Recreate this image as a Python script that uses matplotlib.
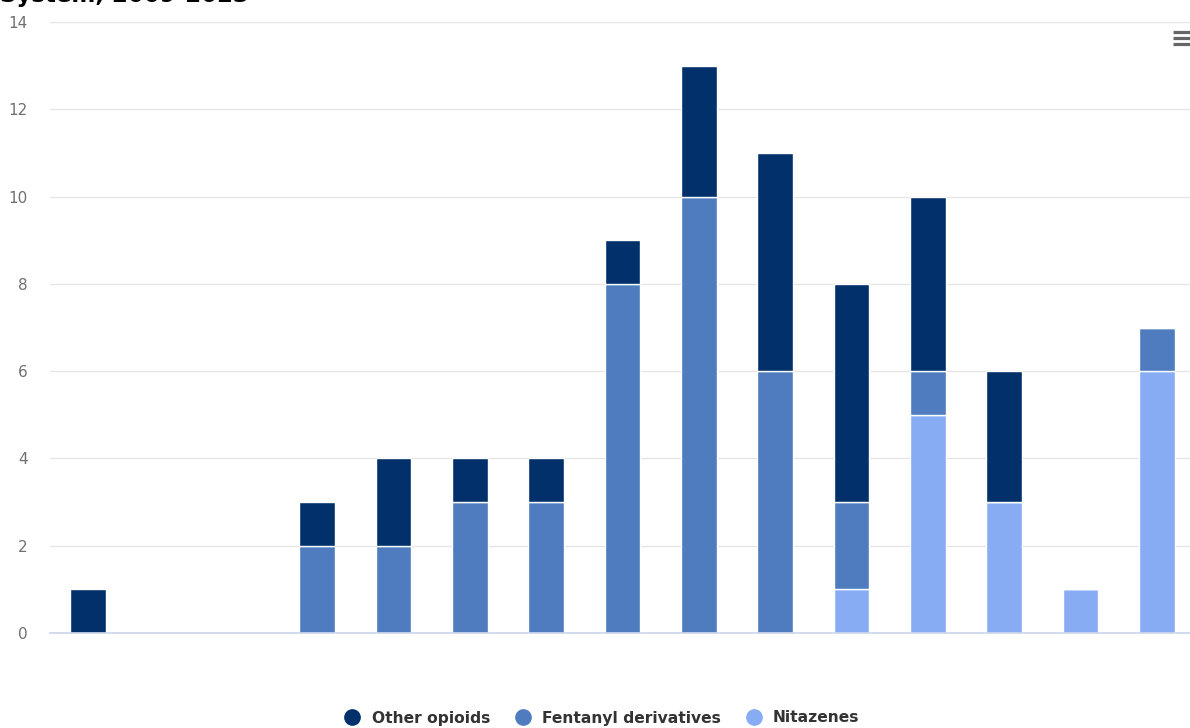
import matplotlib
matplotlib.use("Agg")
import matplotlib.pyplot as plt
from matplotlib.lines import Line2D
import numpy as np

years = list(range(2009, 2024))
other_opioids = [1, 0, 0, 1, 2, 1, 1, 1, 3, 5, 5, 4, 3, 0, 0]
fentanyl = [0, 0, 0, 2, 2, 3, 3, 8, 10, 6, 2, 1, 0, 0, 1]
nitazenes = [0, 0, 0, 0, 0, 0, 0, 0, 0, 0, 1, 5, 3, 1, 6]
series_names = ["Other opioids", "Fentanyl derivatives", "Nitazenes"]
colors = {"Other opioids": "#01306b", "Fentanyl derivatives": "#4e7cbf", "Nitazenes": "#88acf4"}
yticks = [0, 2, 4, 6, 8, 10, 12, 14]

W, H = 1190, 728
fig = plt.figure(figsize=(W / 100, H / 100), dpi=100)
left, right, top, bottom = 50, 1195, 22, 633
ax = fig.add_axes([left / W, (H - bottom) / H, (right - left) / W, (bottom - top) / H])

x = np.arange(len(years))
nit = np.array(nitazenes)
fen = np.array(fentanyl)
oth = np.array(other_opioids)
bw = 0.47
ax.bar(x, nit, bw, color=colors["Nitazenes"], edgecolor="white", linewidth=1, zorder=3)
ax.bar(x, fen, bw, bottom=nit, color=colors["Fentanyl derivatives"], edgecolor="white", linewidth=1, zorder=3)
ax.bar(x, oth, bw, bottom=nit + fen, color=colors["Other opioids"], edgecolor="white", linewidth=1, zorder=3)

ax.set_xlim(-0.5, len(years) - 0.5)
ax.set_ylim(0, 14)
ax.set_yticks(yticks)
ax.set_yticklabels([str(t) for t in yticks], fontsize=11, color="#707070")
ax.set_xticks([])
ax.tick_params(axis="y", length=0, pad=16)
ax.grid(axis="y", color="#e6e6e6", linewidth=1, zorder=0)
for s in ["top", "right", "left"]:
    ax.spines[s].set_visible(False)
ax.spines["bottom"].set_color("#ccd6eb")
ax.spines["bottom"].set_linewidth(1.2)
ax.spines["bottom"].set_zorder(4)

# Legend
handles = [Line2D([0], [0], marker="o", linestyle="", markersize=11,
                  markerfacecolor=colors[n], markeredgecolor=colors[n]) for n in series_names]
leg = fig.legend(handles, series_names, loc="center", bbox_to_anchor=(598 / W, 1 - 718 / H),
                 ncol=3, frameon=False, handletextpad=0.25, columnspacing=1.1,
                 prop={"weight": "bold", "size": 11.2})
for t in leg.get_texts():
    t.set_color("#333333")

# Cropped title
fig.text(0.0, 1 - 2 / H, "System, 2009-2023", fontsize=16.5, fontweight="bold",
         color="black", ha="left", va="baseline")

# Menu icon
for yy in [32, 38, 44]:
    fig.add_artist(Line2D([1173 / W, 1190 / W], [1 - yy / H, 1 - yy / H],
                          color="#666666", linewidth=2.3, solid_capstyle="butt"))

fig.savefig("out.png", dpi=100)
